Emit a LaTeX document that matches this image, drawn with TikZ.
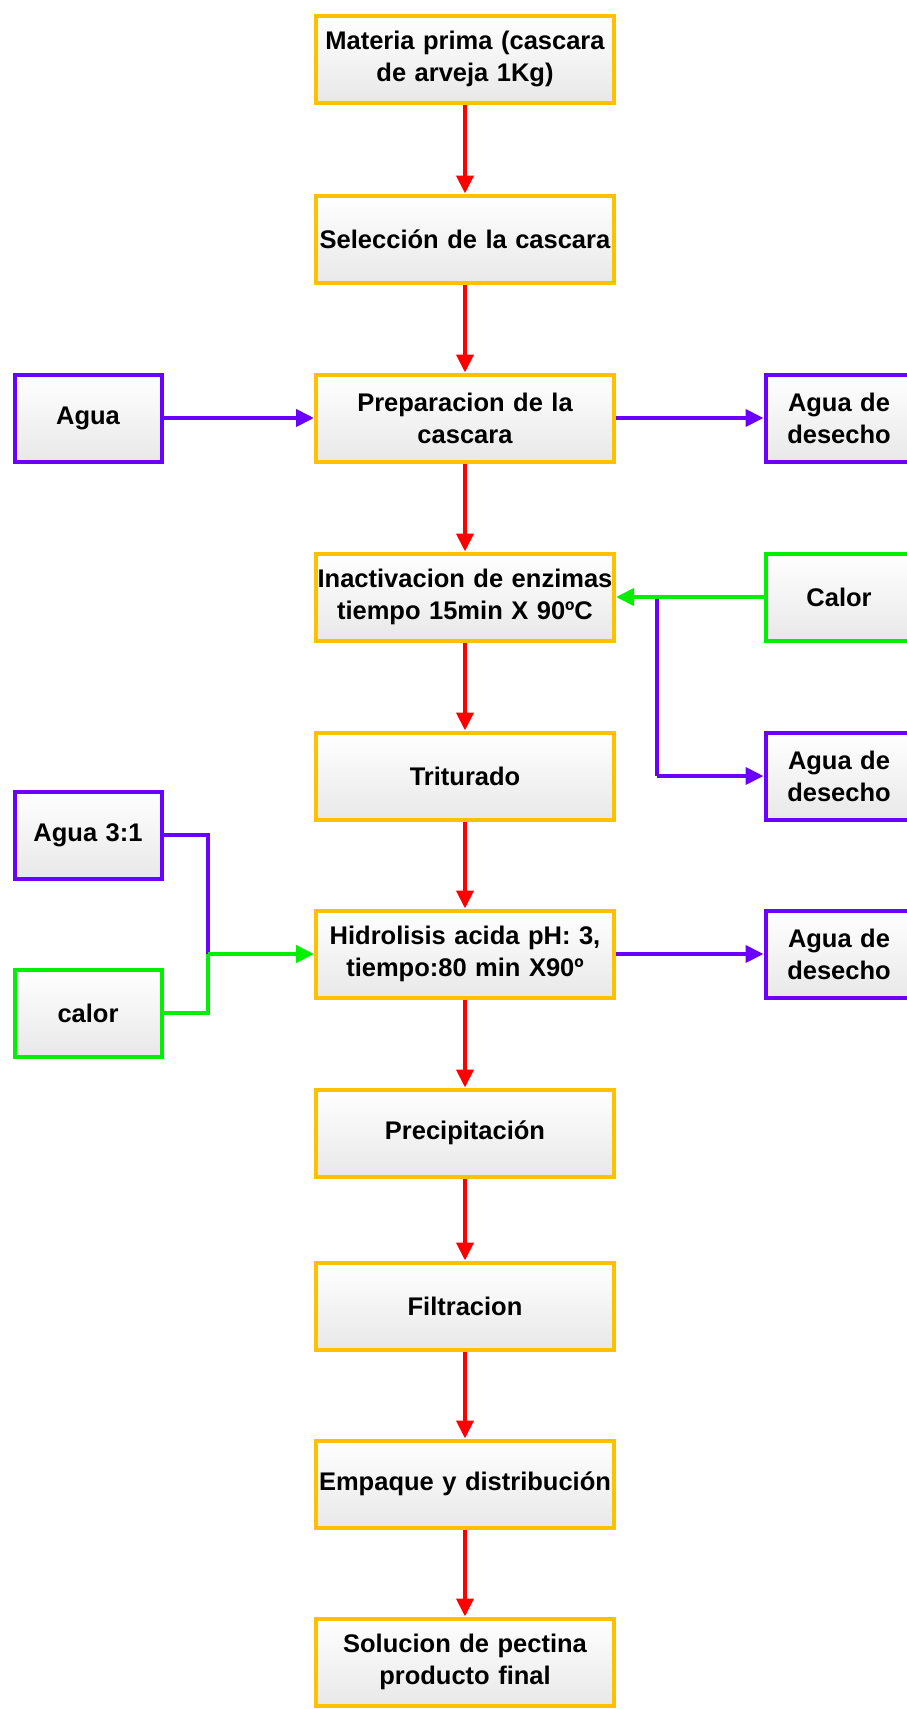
\documentclass[tikz,border=0pt]{standalone}
\usepackage{fontspec}
\setmainfont{Liberation Sans}
\usetikzlibrary{arrows.meta,shadows}
\definecolor{cOr}{HTML}{FFC000}
\definecolor{cPu}{HTML}{6A00FF}
\definecolor{cGr}{HTML}{00F000}
\definecolor{cRd}{HTML}{FF0000}
\tikzset{
  box/.style={rectangle, line width=4pt, top color=white, bottom color=black!9,
    minimum height=87pt, align=center, inner sep=0pt,
    font=\fontsize{25.5}{32}\selectfont\bfseries,
    drop shadow={shadow xshift=2pt, shadow yshift=-2pt, fill=black!40, opacity=0.4}},
  mainbox/.style={box, draw=cOr, minimum width=298pt, text width=298pt},
  purplebox/.style={box, draw=cPu, minimum width=147pt, text width=147pt},
  greenbox/.style={box, draw=cGr, minimum width=147pt, text width=147pt},
  tip/.style={-{Triangle[length=18pt,width=17pt]}},
  redarrow/.style={draw=cRd, line width=4pt, tip},
  purplearrow/.style={draw=cPu, line width=4pt, tip},
  greenarrow/.style={draw=cGr, line width=4pt, tip},
  purpleline/.style={draw=cPu, line width=4pt},
  greenline/.style={draw=cGr, line width=4pt},
}
\begin{document}
\begin{tikzpicture}[x=1pt,y=-1pt]
\clip (0,0) rectangle (907,1709);
\fill[white] (0,0) rectangle (907,1709);
% main column
\node[mainbox] (m1) at (465,59) {Materia prima (cascara\\de arveja 1Kg)};
\node[mainbox] (m2) at (465,239) {Selección de la cascara};
\node[mainbox] (m3) at (465,418) {Preparacion de la\\cascara};
\node[mainbox] (m4) at (465,597) {Inactivacion de enzimas\\tiempo 15min X 90ºC};
\node[mainbox] (m5) at (465,776) {Triturado};
\node[mainbox] (m6) at (465,954) {Hidrolisis acida pH: 3,\\tiempo:80 min X90º};
\node[mainbox] (m7) at (465,1133) {Precipitación};
\node[mainbox] (m8) at (465,1306) {Filtracion};
\node[mainbox] (m9) at (465,1484) {Empaque y distribución};
\node[mainbox] (m10) at (465,1662) {Solucion de pectina\\producto final};
% left boxes
\node[purplebox] (agua) at (88,418) {Agua};
\node[purplebox] (agua31) at (88,835) {Agua 3:1};
\node[greenbox] (calorL) at (88,1013) {calor};
% right boxes
\node[purplebox] (des1) at (839,418) {Agua de\\desecho};
\node[greenbox] (calorR) at (839,597) {Calor};
\node[purplebox] (des2) at (839,776) {Agua de\\desecho};
\node[purplebox] (des3) at (839,954) {Agua de\\desecho};
% red flow
\foreach \a/\b in {m1/m2,m2/m3,m3/m4,m4/m5,m5/m6,m6/m7,m7/m8,m8/m9,m9/m10}
  \draw[redarrow] (\a) -- (\b);
% side flows
\draw[purplearrow] (agua) -- (m3);
\draw[purplearrow] (m3) -- (des1);
\draw[purplearrow] (m6) -- (des3);
\coordinate (j1) at (657,597);
\draw[purpleline] (j1) -- (657,776) coordinate (j1b);
\draw[purplearrow] (j1b) -- (des2.west);
\draw[greenarrow] (calorR) -- (m4);
\coordinate (j2) at (208,954);
\draw[purpleline] (agua31.east) -- (208,835) -- (j2);
\draw[greenline] (calorL.east) -- (208,1013) -- (j2);
\draw[greenarrow] (j2) -- (m6.west);
\end{tikzpicture}
\end{document}
